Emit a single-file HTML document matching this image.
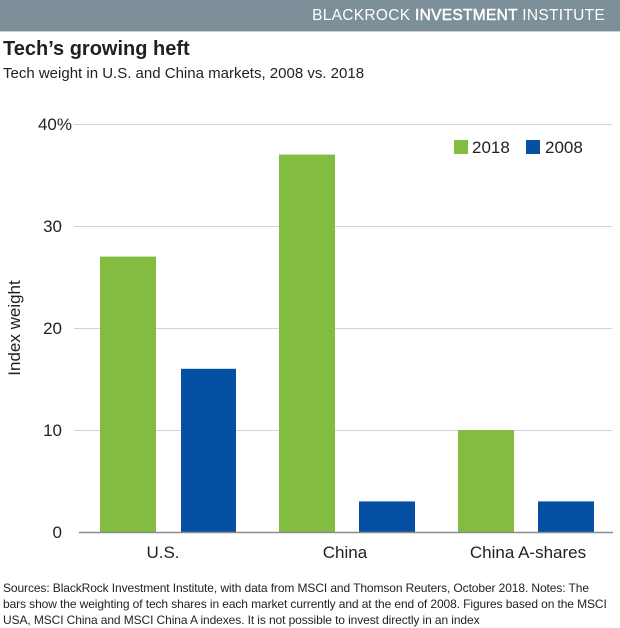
<!DOCTYPE html>
<html><head><meta charset="utf-8"><style>
body{margin:0;width:620px;height:625px;background:#fff;font-family:"Liberation Sans",Arial,sans-serif;position:relative;overflow:hidden;color:#231f20}
.hdr{position:absolute;left:0;top:0;width:620px;height:31px;background:#7d8f99;border-bottom:1px solid #c9d0d4}
.hdr span{position:absolute;right:15px;top:7px;color:#fff;font-size:15.5px;letter-spacing:0.3px}
.t{position:absolute;left:3px;top:38px;font-size:20px;font-weight:bold}
.s{position:absolute;left:3px;top:65px;font-size:15px}
.f{position:absolute;left:3px;top:580px;font-size:12px;line-height:16px;width:620px;letter-spacing:-0.1px}
</style></head><body>
<div class="hdr"><span>BLACKROCK <b style="font-weight:normal;-webkit-text-stroke:0.5px #fff">INVESTMENT</b> INSTITUTE</span></div>
<div class="t">Tech’s growing heft</div>
<div class="s">Tech weight in U.S. and China markets, 2008 vs. 2018</div>
<svg width="620" height="625" style="position:absolute;left:0;top:0" font-family="Liberation Sans,Arial,sans-serif">
<g stroke="#d3d3d3" stroke-width="1">
<line x1="74" x2="612" y1="124.5" y2="124.5"/>
<line x1="74" x2="612" y1="226.5" y2="226.5"/>
<line x1="74" x2="612" y1="328.5" y2="328.5"/>
<line x1="74" x2="612" y1="430.5" y2="430.5"/>
</g>
<g font-size="17" fill="#231f20" text-anchor="end">
<text x="72" y="130">40%</text>
<text x="62" y="232">30</text>
<text x="62" y="334">20</text>
<text x="62" y="436">10</text>
<text x="62" y="538">0</text>
</g>
<text transform="translate(20,328) rotate(-90)" font-size="17" text-anchor="middle" fill="#231f20">Index weight</text>
<g fill="#82bc41">
<rect x="100" y="256.6" width="56" height="275.4"/>
<rect x="279" y="154.6" width="56" height="377.4"/>
<rect x="458" y="430" width="56" height="102"/>
</g>
<g fill="#0550a3">
<rect x="181" y="368.8" width="55" height="163.2"/>
<rect x="359" y="501.4" width="56" height="30.6"/>
<rect x="538" y="501.4" width="56" height="30.6"/>
</g>
<line x1="79" x2="613" y1="532.5" y2="532.5" stroke="#8c8c8c" stroke-width="1.5"/>
<g font-size="17" fill="#231f20" text-anchor="middle">
<text x="163" y="558">U.S.</text>
<text x="345" y="558">China</text>
<text x="528" y="558">China A-shares</text>
</g>
<rect x="454" y="140" width="14" height="14" fill="#82bc41"/>
<text x="472" y="153" font-size="17" fill="#231f20">2018</text>
<rect x="526" y="140" width="14" height="14" fill="#0550a3"/>
<text x="545" y="153" font-size="17" fill="#231f20">2008</text>
</svg>
<div class="f">Sources: BlackRock Investment Institute, with data from MSCI and Thomson Reuters, October 2018. Notes: The<br>bars show the weighting of tech shares in each market currently and at the end of 2008. Figures based on the MSCI<br>USA, MSCI China and MSCI China A indexes. It is not possible to invest directly in an index</div>
</body></html>
